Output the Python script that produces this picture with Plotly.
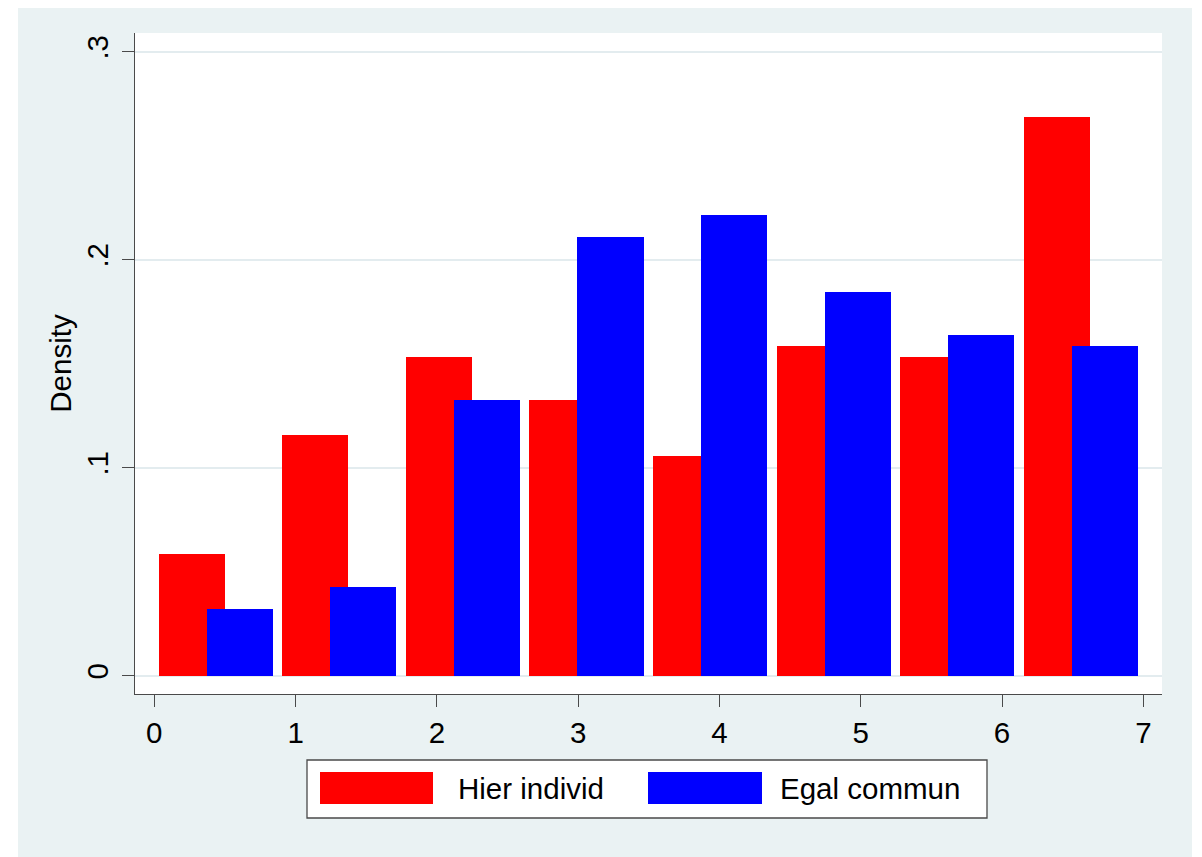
import plotly.graph_objects as go

# ---- data ----
bin_start = [0.0, 0.875, 1.75, 2.625, 3.5, 4.375, 5.25, 6.125]
hier_individ = [0.0585, 0.1157, 0.1532, 0.1326, 0.1056, 0.1585, 0.1532, 0.2688]
egal_commun = [0.0319, 0.0428, 0.1326, 0.2109, 0.2215, 0.1845, 0.1638, 0.1585]
series_names = ["Hier individ", "Egal commun"]
y_tickvals = [0, 0.1, 0.2, 0.3]
y_ticktext = ["0", ".1", ".2", ".3"]
x_tickvals = [0, 1, 2, 3, 4, 5, 6, 7]

# page offset of the figure inside the html body (default body margin)
OFF = 8
PAGE_W, PAGE_H = 1202, 857
W, H = PAGE_W - OFF, PAGE_H - OFF
# plot area in page pixels: x 135..1162, y 33..694
ML = 135 - OFF
MT = 33 - OFF
MR = W - (1162 - OFF)
MB = H - (694 - OFF)
PW, PH = W - ML - MR, H - MT - MB

RED = "#FF0000"
BLUE = "#0000FF"
BG = "#EAF2F3"
AX = "#4a4a4a"
FONT = "Liberation Sans, Arial, sans-serif"
FS = 29.5


def px(xpage):
    return (xpage - OFF - ML) / PW


def py(ypage):
    return (H - MB - (ypage - OFF)) / PH


fig = go.Figure()
fig.add_trace(go.Bar(x=bin_start, y=hier_individ, name=series_names[0],
                     width=0.468, offset=0.03, marker=dict(color=RED, line=dict(width=0)),
                     showlegend=False))
fig.add_trace(go.Bar(x=bin_start, y=egal_commun, name=series_names[1],
                     width=0.468, offset=0.37, marker=dict(color=BLUE, line=dict(width=0)),
                     showlegend=False))

shapes = [
    # outer graph region
    dict(type="rect", xref="paper", yref="paper", x0=px(18), x1=px(1192), y0=py(860), y1=py(3),
         fillcolor=BG, line=dict(width=0), layer="below"),
    # plot region
    dict(type="rect", xref="paper", yref="paper", x0=0, x1=1, y0=0, y1=1,
         fillcolor="white", line=dict(width=0), layer="below"),
    # legend box
    dict(type="rect", xref="paper", yref="paper", x0=px(307), x1=px(987), y0=py(818), y1=py(760),
         fillcolor="white", line=dict(color=AX, width=1.3), layer="below"),
    # legend swatches
    dict(type="rect", xref="paper", yref="paper", x0=px(320), x1=px(433), y0=py(804), y1=py(772),
         fillcolor=RED, line=dict(width=0), layer="above"),
    dict(type="rect", xref="paper", yref="paper", x0=px(648), x1=px(762), y0=py(804), y1=py(772),
         fillcolor=BLUE, line=dict(width=0), layer="above"),
]
annotations = [
    dict(xref="paper", yref="paper", x=px(456), y=py(788), text=series_names[0], showarrow=False,
         xanchor="left", yanchor="middle", font=dict(family=FONT, size=FS, color="black")),
    dict(xref="paper", yref="paper", x=px(778), y=py(788), text=series_names[1], showarrow=False,
         xanchor="left", yanchor="middle", font=dict(family=FONT, size=FS, color="black")),
]

fig.update_layout(
    width=W, height=H,
    margin=dict(l=ML, r=MR, t=MT, b=MB, pad=0),
    paper_bgcolor="white",
    plot_bgcolor="rgba(0,0,0,0)",
    barmode="overlay",
    bargap=0,
    font=dict(family=FONT, size=FS, color="black"),
    shapes=shapes,
    annotations=annotations,
    showlegend=False,
)
fig.update_xaxes(
    range=[-0.1366, 7.132], tickvals=x_tickvals, showgrid=False, zeroline=False,
    showline=True, linecolor=AX, linewidth=1.2, ticks="outside", ticklen=12,
    tickcolor=AX, tickwidth=1.2, tickfont=dict(family=FONT, size=FS, color="black"),
)
fig.update_yaxes(
    range=[-0.0088, 0.309], tickvals=y_tickvals, ticktext=y_ticktext, tickangle=-90,
    showgrid=True, gridcolor="#E3ECEF", gridwidth=1.5, zeroline=False,
    showline=True, linecolor=AX, linewidth=1.2, ticks="outside", ticklen=12,
    tickcolor=AX, tickwidth=1.2, tickfont=dict(family=FONT, size=FS, color="black"),
    ticklabelstandoff=2,
    title=dict(text="Density", font=dict(family=FONT, size=FS, color="black"), standoff=0),
)

fig.write_html("out.html")
